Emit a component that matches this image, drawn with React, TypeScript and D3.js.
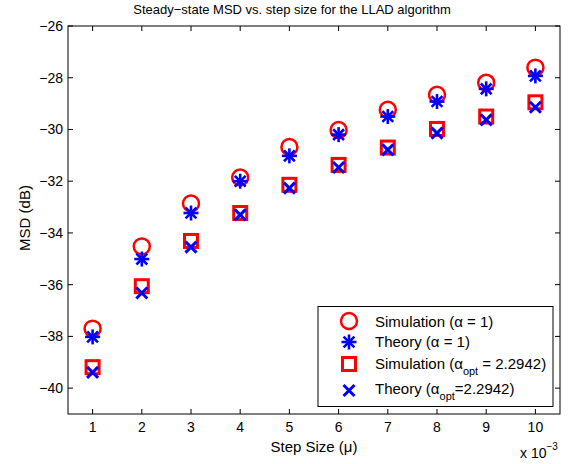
import React from "react";
import * as d3 from "d3";

// step size (x 10^-3)
const steps = [1, 2, 3, 4, 5, 6, 7, 8, 9, 10];
// MSD in dB
const simAlpha1 = [-37.7, -34.52, -32.86, -31.86, -30.68, -30.02, -29.24, -28.66, -28.19, -27.61];
const theoryAlpha1 = [-38.02, -35.01, -33.23, -32.0, -31.02, -30.2, -29.5, -28.92, -28.43, -27.93];
const simAlphaOpt = [-39.19, -36.06, -34.31, -33.23, -32.14, -31.37, -30.7, -29.98, -29.5, -28.95];
const theoryAlphaOpt = [-39.39, -36.32, -34.55, -33.3, -32.27, -31.47, -30.79, -30.14, -29.63, -29.14];
const yTicks = [-40, -38, -36, -34, -32, -30, -28, -26];

const W = 574;
const H = 464;
const m = { left: 68, right: 14, top: 26, bottom: 50 };
const RED = "#ff0000";
const BLUE = "#0000ff";
const FONT = "'Liberation Sans', Arial, sans-serif";

const x = d3.scaleLinear().domain([0.5, 10.5]).range([m.left, W - m.right]);
const y = d3.scaleLinear().domain([-41, -26]).range([H - m.bottom, m.top]);

const Circle = ({ cx, cy }: { cx: number; cy: number }) => (
  <circle cx={cx} cy={cy} r={8} fill="none" stroke={RED} strokeWidth={2.5} />
);
const Square = ({ cx, cy }: { cx: number; cy: number }) => (
  <rect x={cx - 6.5} y={cy - 6.5} width={13} height={13} fill="none" stroke={RED} strokeWidth={3} />
);
const Star = ({ cx, cy }: { cx: number; cy: number }) => {
  const r = 7.5;
  const d = r * 0.72;
  return (
    <g stroke={BLUE} strokeWidth={2.6}>
      <line x1={cx - r} y1={cy} x2={cx + r} y2={cy} />
      <line x1={cx} y1={cy - r} x2={cx} y2={cy + r} />
      <line x1={cx - d} y1={cy - d} x2={cx + d} y2={cy + d} />
      <line x1={cx - d} y1={cy + d} x2={cx + d} y2={cy - d} />
    </g>
  );
};
const Cross = ({ cx, cy }: { cx: number; cy: number }) => {
  const d = 5.5;
  return (
    <g stroke={BLUE} strokeWidth={3}>
      <line x1={cx - d} y1={cy - d} x2={cx + d} y2={cy + d} />
      <line x1={cx - d} y1={cy + d} x2={cx + d} y2={cy - d} />
    </g>
  );
};

const minus = (v: number) => (v < 0 ? "\u2212" + Math.abs(v) : String(v));

export default function App() {
  const x0 = m.left;
  const x1 = W - m.right;
  const y0 = H - m.bottom;
  const y1 = m.top;
  const tl = 5;

  // legend
  const lg = { x: 318, y: 306.5, w: 235, h: 100 };
  const rows = [321, 342, 364, 390.5];
  const mx = 349;
  const tx = 375;

  return (
    <svg width={W} height={H} style={{ position: "absolute", left: 0, top: 0, background: "#fff" }} fontFamily={FONT}>
      <rect x={0} y={0} width={W} height={H} fill="#fff" />

      {/* x ticks */}
      {steps.map((s) => (
        <g key={"xt" + s}>
          <line x1={x(s)} x2={x(s)} y1={y0} y2={y0 - tl} stroke="#000" />
          <line x1={x(s)} x2={x(s)} y1={y1} y2={y1 + tl} stroke="#000" />
          <text x={x(s)} y={y0 + 18} fontSize={14} textAnchor="middle">{s}</text>
        </g>
      ))}
      {/* y ticks */}
      {yTicks.map((t) => (
        <g key={"yt" + t}>
          <line x1={x0} x2={x0 + tl} y1={y(t)} y2={y(t)} stroke="#000" />
          <line x1={x1} x2={x1 - tl} y1={y(t)} y2={y(t)} stroke="#000" />
          <text x={x0 - 5} y={y(t) + 5} fontSize={14} textAnchor="end">{minus(t)}</text>
        </g>
      ))}

      <rect x={x0} y={y1} width={x1 - x0} height={y0 - y1} fill="none" stroke="#000" strokeWidth={1} />

      {steps.map((s, i) => <Circle key={"c" + s} cx={x(s)} cy={y(simAlpha1[i])} />)}
      {steps.map((s, i) => <Star key={"s" + s} cx={x(s)} cy={y(theoryAlpha1[i])} />)}
      {steps.map((s, i) => <Square key={"q" + s} cx={x(s)} cy={y(simAlphaOpt[i])} />)}
      {steps.map((s, i) => <Cross key={"x" + s} cx={x(s)} cy={y(theoryAlphaOpt[i])} />)}

      {/* legend */}
      <rect x={lg.x} y={lg.y} width={lg.w} height={lg.h} fill="#fff" stroke="#000" />
      <Circle cx={mx} cy={rows[0]} />
      <Star cx={mx} cy={rows[1]} />
      <Square cx={mx} cy={rows[2]} />
      <Cross cx={mx} cy={rows[3]} />
      <text x={tx} y={326.5} fontSize={15}>Simulation (α = 1)</text>
      <text x={tx} y={346.5} fontSize={15}>Theory (α = 1)</text>
      <text x={tx} y={368.5} fontSize={15}>
        Simulation (α<tspan fontSize={11} dy={6.5}>opt</tspan><tspan dy={-6.5}> = 2.2942)</tspan>
      </text>
      <text x={tx} y={393.5} fontSize={15}>
        Theory (α<tspan fontSize={11} dy={6.5}>opt</tspan><tspan dy={-6.5}>=2.2942)</tspan>
      </text>

      {/* labels */}
      <text x={292} y={14} fontSize={13} textAnchor="middle">Steady−state MSD vs. step size for the LLAD algorithm</text>
      <text x={(x0 + x1) / 2} y={452} fontSize={15} textAnchor="middle">Step Size (μ)</text>
      <text x={520} y={458} fontSize={14}>
        x 10<tspan fontSize={10} dy={-8}>−3</tspan>
      </text>
      <text transform={`translate(30,218) rotate(-90)`} fontSize={15} textAnchor="middle">MSD (dB)</text>
    </svg>
  );
}
